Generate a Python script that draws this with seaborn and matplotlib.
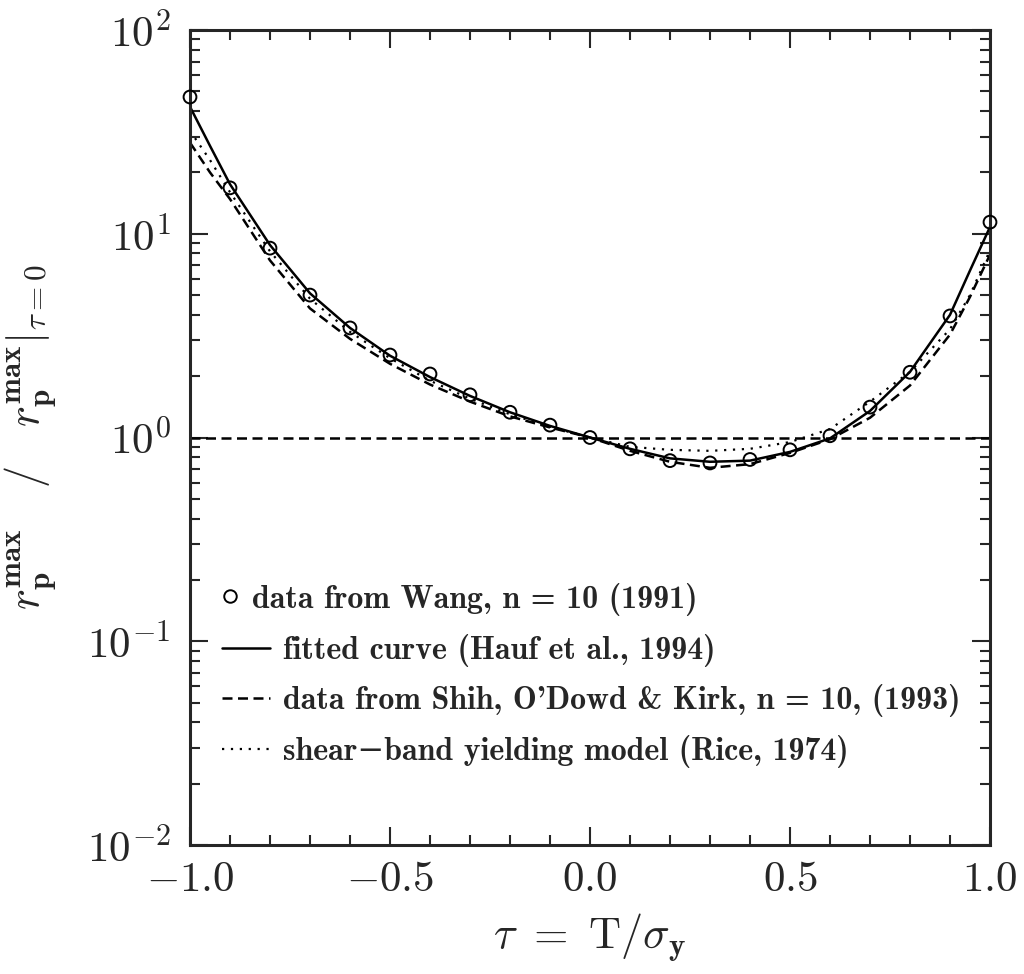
import numpy as np
import pandas as pd
import seaborn as sns
import matplotlib.pyplot as plt
from matplotlib.ticker import MultipleLocator, LogLocator, NullFormatter
from matplotlib.lines import Line2D

# Data
tau_data = [-1.0, -0.9, -0.8, -0.7, -0.6, -0.5, -0.4, -0.3, -0.2, -0.1, 0.0,
            0.1, 0.2, 0.3, 0.4, 0.5, 0.6, 0.7, 0.8, 0.9, 1.0]
wang = [46.9, 16.8, 8.5, 5.0, 3.45, 2.54, 2.05, 1.62, 1.33, 1.15, 1.0,
        0.88, 0.77, 0.75, 0.78, 0.87, 1.02, 1.41, 2.09, 3.95, 11.4]

tau_curve = [-1.0, -0.95, -0.9, -0.8, -0.7, -0.6, -0.5, -0.4, -0.3, -0.2, -0.1, 0.0,
             0.1, 0.2, 0.3, 0.4, 0.5, 0.6, 0.7, 0.8, 0.9, 0.95, 1.0]
fitted = [42.0, 27.0, 17.5, 8.8, 5.1, 3.45, 2.52, 1.98, 1.6, 1.33, 1.14, 1.0,
          0.88, 0.79, 0.76, 0.77, 0.85, 0.99, 1.35, 2.1, 4.0, 6.6, 10.8]
shih = [28.0, 20.0, 14.8, 7.4, 4.3, 3.05, 2.3, 1.82, 1.5, 1.27, 1.12, 1.0,
        0.86, 0.76, 0.71, 0.74, 0.84, 0.98, 1.25, 1.8, 3.2, 4.9, 7.9]
rice = [32.0, 23.0, 16.0, 8.2, 4.8, 3.3, 2.45, 1.9, 1.55, 1.3, 1.13, 1.0,
        0.9, 0.87, 0.86, 0.88, 0.95, 1.1, 1.5, 2.1, 3.4, 5.0, 8.3]
ref_level = 1.0

labels = ["data from Wang, n = 10 (1991)",
          "fitted curve (Hauf et al., 1994)",
          "data from Shih, O'Dowd & Kirk, n = 10, (1993)",
          "shear\u2212band yielding model (Rice, 1974)"]

sns.set_style("ticks")
plt.rcParams['font.family'] = ['cmr10', 'DejaVu Serif']
plt.rcParams['mathtext.fontset'] = 'cm'
plt.rcParams['axes.formatter.use_mathtext'] = True

df_pts = pd.DataFrame({'tau': tau_data, 'ratio': wang})
df_cur = pd.DataFrame({'tau': tau_curve, 'fitted': fitted, 'shih': shih, 'rice': rice})

fig = plt.figure(figsize=(10.24, 9.74), dpi=100)
ax = fig.add_axes([190 / 1024, 1 - 845 / 974, 800 / 1024, 815 / 974])

lw = 1.8
dash = (0, (4, 2.2))
dot = (0, (1, 3))
sns.lineplot(data=df_cur, x='tau', y='fitted', ax=ax, color='black', lw=lw)
sns.lineplot(data=df_cur, x='tau', y='shih', ax=ax, color='black', lw=lw,
             linestyle=dash)
sns.lineplot(data=df_cur, x='tau', y='rice', ax=ax, color='black', lw=1.6,
             linestyle=dot)
ax.axhline(ref_level, color='black', lw=lw, linestyle=dash)
sns.scatterplot(data=df_pts, x='tau', y='ratio', ax=ax, marker='o', s=85,
                facecolor='none', edgecolor='black', linewidth=1.4, zorder=5,
                clip_on=False)

ax.set_yscale('log')
ax.set_xlim(-1.0, 1.0)
ax.set_ylim(1e-2, 1e2)
ax.xaxis.set_major_locator(MultipleLocator(0.5))
ax.xaxis.set_minor_locator(MultipleLocator(0.1))
ax.xaxis.set_major_formatter(plt.FuncFormatter(lambda v, p: f"${v:.1f}$"))
ax.yaxis.set_major_locator(LogLocator(base=10, numticks=10))
ax.yaxis.set_minor_locator(LogLocator(base=10, subs=np.arange(2, 10), numticks=20))
ax.yaxis.set_minor_formatter(NullFormatter())

for s in ax.spines.values():
    s.set_linewidth(2.2)
ax.tick_params(which='both', direction='in', top=True, right=True, width=1.5,
               labelsize=31)
ax.tick_params(which='major', length=13)
ax.tick_params(which='minor', length=7)
ax.tick_params(axis='x', pad=12)
ax.tick_params(axis='y', pad=14)

ax.set_xlabel(r'$\tau\ =\ \mathrm{T}/\sigma_{\mathbf{y}}$', fontsize=32, labelpad=9)
ax.set_ylabel(r'$r_{\mathbf{p}}^{\mathbf{max}}\ \ \ /\ \ \ r_{\mathbf{p}}^{\mathbf{max}}|_{\tau=0}$',
              fontsize=32, labelpad=20)

leg_font = {'family': ['cmb10', 'DejaVu Serif'], 'size': 23}
h0 = [Line2D([], [], marker='o', ls='none', mfc='none', mec='black', ms=9, mew=1.4)]
leg1 = ax.legend(h0, labels[:1], loc='upper left', bbox_to_anchor=(0.04, 0.322),
                 frameon=False, prop=leg_font, handlelength=0.5, handletextpad=0.44,
                 borderpad=0, borderaxespad=0)
ax.add_artist(leg1)
h1 = [Line2D([], [], color='black', lw=lw),
      Line2D([], [], color='black', lw=lw, ls=dash),
      Line2D([], [], color='black', lw=1.6, ls=dot)]
ax.legend(h1, labels[1:], loc='upper left', bbox_to_anchor=(0.04, 0.259),
          frameon=False, prop=leg_font, handlelength=1.5, handletextpad=0.4,
          labelspacing=0.55, borderpad=0, borderaxespad=0)

fig.savefig('out.png', dpi=100)
